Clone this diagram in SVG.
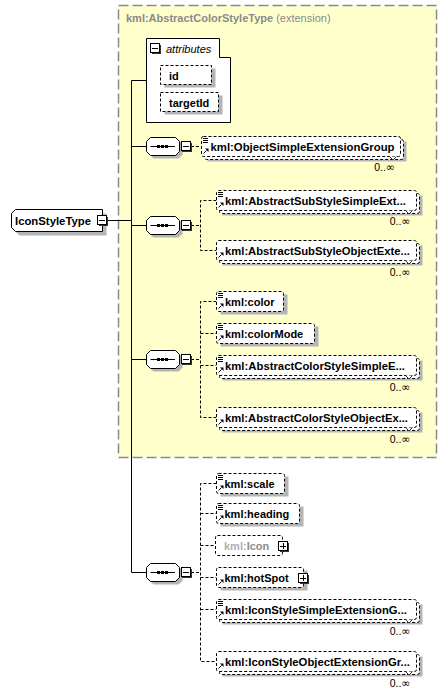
<svg xmlns="http://www.w3.org/2000/svg" xmlns:xlink="http://www.w3.org/1999/xlink" width="448" height="696" viewBox="0 0 448 696">
<style>
.t{font-family:"Liberation Sans",Arial,sans-serif;font-size:11px;font-weight:bold;fill:#000}
.ti{font-family:"Liberation Sans",Arial,sans-serif;font-size:11px;font-style:italic;fill:#000}
.m{font-family:"Liberation Sans",Arial,sans-serif;font-size:10.5px;fill:#000;text-anchor:end}
.inf{font-family:"DejaVu Sans",sans-serif;font-size:11px}
.sh{fill:#b4b4b4}
.eb{fill:#fff;stroke:#000;stroke-width:1;stroke-dasharray:3,2}
.ln{stroke:#000;stroke-width:1;fill:none}
.dl{stroke:#000;stroke-width:1;fill:none;stroke-dasharray:3,2}
.ch{stroke:#333;stroke-width:1;fill:#fff}
</style>
<defs>
<g id="mn" shape-rendering="crispEdges"><path d="M10.5,1.5V10.5H1.5" stroke="#333" fill="none"/><rect x="0.5" y="0.5" width="9" height="9" fill="#fff" stroke="#000"/><path d="M2,5.5H8" stroke="#000"/></g>
<g id="pl" shape-rendering="crispEdges"><path d="M10.5,1.5V10.5H1.5" stroke="#333" fill="none"/><rect x="0.5" y="0.5" width="9" height="9" fill="#fff" stroke="#000"/><path d="M2,5.5H8M5.5,2V8" stroke="#000"/></g>
<g id="sm" shape-rendering="crispEdges"><path d="M0,0.5H5M0,2.5H5M0,4.5H5" stroke="#000"/></g>
<g id="rf"><path d="M0.5,5.5L3.5,2.5" stroke="#000"/><path d="M2,0.5H5.5V4Z" fill="#000"/></g>
<g id="sq">
<path d="M7,-6H32L36,-2V8L32,12H7L3,8V-2Z" class="sh"/>
<path d="M4,-9H29L33,-5V5L29,9H4L0,5V-5Z" fill="#fff" stroke="#000"/>
<path d="M4,0H28.5" stroke="#000"/>
<rect x="10.5" y="-1.5" width="3" height="3" fill="#000"/>
<rect x="14.5" y="-1.5" width="3" height="3" fill="#000"/>
<rect x="18.5" y="-1.5" width="3" height="3" fill="#000"/>
<use href="#mn" x="34" y="-5.5"/>
</g>
</defs>

<g id="ext">
<rect x="118.5" y="5.5" width="318" height="452" fill="#ffffcc" stroke="#8a8a8a" stroke-width="1.5" stroke-dasharray="10,4"/>
<text x="126" y="22" class="t" style="fill:#8a8a8a">kml:AbstractColorStyleType<tspan style="font-weight:normal"> (extension)</tspan></text>
</g>

<g id="connectors">
<path class="ln" d="M107,220.5H131.5M131.5,80.5V572.5H146.5M131.5,80.5H146.5M131.5,146.5H146.5M131.5,225.5H146.5M131.5,359.5H146.5"/>
<path class="dl" d="M191,146.5H201.5"/>
<path class="dl" d="M191,225.5H200.5M216.5,200.5H200.5V250.5H216.5"/>
<path class="dl" d="M191,359.5H200.5M216.5,301.5H200.5V417.5H216.5M200.5,333.5H216.5M200.5,365.5H216.5"/>
<path class="dl" d="M191,572.5H200.5M216.5,483.5H200.5V661.5H216.5M200.5,513.5H216.5M200.5,545.5H215.5M200.5,577.5H216.5M200.5,609.5H216.5"/>
</g>

<g id="IconStyleType">
<path d="M19.5,213.5H106.5V235.5H19.5L15.5,231.5V217.5Z" class="sh"/>
<path d="M15.5,209.5H102.5V231.5H15.5L11.5,227.5V213.5Z" fill="#fff" stroke="#000"/>
<text x="15" y="224.5" class="t" textLength="76" lengthAdjust="spacingAndGlyphs">IconStyleType</text>
<use href="#mn" x="97" y="215"/>
</g>

<g id="attributes">
<path d="M146.5,38.5H219.5V57.5H230.5V122.5H146.5Z" fill="#fff" stroke="#000"/>
<use href="#mn" x="150" y="43"/>
<text x="166" y="52.5" class="ti">attributes</text>
</g>
<g id="attr-id">
<rect x="164.5" y="68.5" width="51" height="19" class="sh"/>
<rect x="160.5" y="65.5" width="51" height="19" class="eb"/>
<text x="169" y="79.5" class="t">id</text>
</g>
<g id="attr-targetId">
<rect x="164.5" y="95.5" width="58" height="19" class="sh"/>
<rect x="160.5" y="92.5" width="58" height="19" class="eb"/>
<text x="169" y="106.5" class="t">targetId</text>
</g>

<g id="seq1"><use href="#sq" x="146.5" y="146.5"/></g>
<g id="seq2"><use href="#sq" x="146.5" y="225.5"/></g>
<g id="seq3"><use href="#sq" x="146.5" y="359.5"/></g>
<g id="seq4"><use href="#sq" x="146.5" y="572.5"/></g>

<g id="e-ObjectSimpleExtensionGroup">
<rect x="207.5" y="141.5" width="199" height="20" class="sh"/>
<rect x="204.5" y="139.5" width="199" height="20" rx="2" class="eb"/>
<rect x="201.5" y="136.5" width="199" height="20" rx="2" class="eb"/>
<path class="ch" d="M389.5,156.5l3.5,3.5l3.5,-3.5"/>
<use href="#sm" x="203" y="138"/><use href="#rf" x="203" y="148"/>
<text x="210.5" y="150.5" class="t" textLength="184" lengthAdjust="spacingAndGlyphs">kml:ObjectSimpleExtensionGroup</text>
<text x="395" y="171" class="m">0..<tspan class="inf">∞</tspan></text>
</g>

<g id="e-AbstractSubStyleSimpleExt">
<rect x="222.5" y="195.5" width="200" height="20" class="sh"/>
<rect x="219.5" y="193.5" width="200" height="20" rx="2" class="eb"/>
<rect x="216.5" y="190.5" width="200" height="20" rx="2" class="eb"/>
<path class="ch" d="M405.5,210.5l3.5,3.5l3.5,-3.5"/>
<use href="#sm" x="218" y="192"/><use href="#rf" x="218" y="202"/>
<text x="225" y="204.5" class="t" textLength="181" lengthAdjust="spacingAndGlyphs">kml:AbstractSubStyleSimpleExt...</text>
<text x="410.5" y="225" class="m">0..<tspan class="inf">∞</tspan></text>
</g>

<g id="e-AbstractSubStyleObjectExt">
<rect x="222.5" y="245.5" width="200" height="20" class="sh"/>
<rect x="219.5" y="243.5" width="200" height="20" rx="2" class="eb"/>
<rect x="216.5" y="240.5" width="200" height="20" rx="2" class="eb"/>
<path class="ch" d="M405.5,260.5l3.5,3.5l3.5,-3.5"/>
<use href="#rf" x="218" y="252"/>
<text x="225" y="254.5" class="t" textLength="185" lengthAdjust="spacingAndGlyphs">kml:AbstractSubStyleObjectExte...</text>
<text x="410.5" y="276" class="m">0..<tspan class="inf">∞</tspan></text>
</g>

<g id="e-color">
<rect x="220.5" y="294.5" width="67" height="20" class="sh"/>
<rect x="216.5" y="291.5" width="67" height="20" rx="2" class="eb"/>
<use href="#sm" x="218" y="293"/><use href="#rf" x="218" y="303"/>
<text x="225" y="305.5" class="t">kml:color</text>
</g>

<g id="e-colorMode">
<rect x="220.5" y="326.5" width="98" height="20" class="sh"/>
<rect x="216.5" y="323.5" width="98" height="20" rx="2" class="eb"/>
<use href="#sm" x="218" y="325"/><use href="#rf" x="218" y="335"/>
<text x="225" y="337.5" class="t">kml:colorMode</text>
</g>

<g id="e-AbstractColorStyleSimpleExt">
<rect x="222.5" y="360.5" width="200" height="20" class="sh"/>
<rect x="219.5" y="358.5" width="200" height="20" rx="2" class="eb"/>
<rect x="216.5" y="355.5" width="200" height="20" rx="2" class="eb"/>
<path class="ch" d="M405.5,375.5l3.5,3.5l3.5,-3.5"/>
<use href="#sm" x="218" y="357"/><use href="#rf" x="218" y="367"/>
<text x="225" y="369.5" class="t" textLength="180" lengthAdjust="spacingAndGlyphs">kml:AbstractColorStyleSimpleE...</text>
<text x="410.5" y="391" class="m">0..<tspan class="inf">∞</tspan></text>
</g>

<g id="e-AbstractColorStyleObjectExt">
<rect x="222.5" y="412.5" width="200" height="20" class="sh"/>
<rect x="219.5" y="410.5" width="200" height="20" rx="2" class="eb"/>
<rect x="216.5" y="407.5" width="200" height="20" rx="2" class="eb"/>
<path class="ch" d="M405.5,427.5l3.5,3.5l3.5,-3.5"/>
<use href="#rf" x="218" y="419"/>
<text x="225" y="421.5" class="t" textLength="183" lengthAdjust="spacingAndGlyphs">kml:AbstractColorStyleObjectEx...</text>
<text x="410.5" y="443" class="m">0..<tspan class="inf">∞</tspan></text>
</g>

<g id="e-scale">
<rect x="220.5" y="476.5" width="68" height="20" class="sh"/>
<rect x="216.5" y="473.5" width="68" height="20" rx="2" class="eb"/>
<use href="#sm" x="218" y="475"/><use href="#rf" x="218" y="485"/>
<text x="224.5" y="487.5" class="t">kml:scale</text>
</g>

<g id="e-heading">
<rect x="220.5" y="506.5" width="83" height="20" class="sh"/>
<rect x="216.5" y="503.5" width="83" height="20" rx="2" class="eb"/>
<use href="#sm" x="218" y="505"/><use href="#rf" x="218" y="515"/>
<text x="224.5" y="517.5" class="t">kml:heading</text>
</g>

<g id="e-Icon">
<rect x="215.5" y="535.5" width="67" height="20" rx="2" class="eb"/>
<text x="224" y="549.5" class="t"><tspan style="fill:#b0b0b0">kml:</tspan><tspan style="fill:#8c8c8c">Icon</tspan></text>
<use href="#pl" x="278" y="541"/>
</g>

<g id="e-hotSpot">
<rect x="220.5" y="570.5" width="87" height="20" class="sh"/>
<rect x="216.5" y="567.5" width="87" height="20" rx="2" class="eb"/>
<use href="#rf" x="218" y="579"/>
<text x="224.5" y="581.5" class="t">kml:hotSpot</text>
<use href="#pl" x="298" y="573"/>
</g>

<g id="e-IconStyleSimpleExt">
<rect x="222.5" y="604.5" width="200" height="20" class="sh"/>
<rect x="219.5" y="602.5" width="200" height="20" rx="2" class="eb"/>
<rect x="216.5" y="599.5" width="200" height="20" rx="2" class="eb"/>
<path class="ch" d="M405.5,619.5l3.5,3.5l3.5,-3.5"/>
<use href="#sm" x="218" y="601"/><use href="#rf" x="218" y="611"/>
<text x="225" y="613.5" class="t" textLength="182" lengthAdjust="spacingAndGlyphs">kml:IconStyleSimpleExtensionG...</text>
<text x="410.5" y="635" class="m">0..<tspan class="inf">∞</tspan></text>
</g>

<g id="e-IconStyleObjectExt">
<rect x="222.5" y="656.5" width="200" height="20" class="sh"/>
<rect x="219.5" y="654.5" width="200" height="20" rx="2" class="eb"/>
<rect x="216.5" y="651.5" width="200" height="20" rx="2" class="eb"/>
<path class="ch" d="M405.5,671.5l3.5,3.5l3.5,-3.5"/>
<use href="#rf" x="218" y="663"/>
<text x="225" y="665.5" class="t" textLength="185" lengthAdjust="spacingAndGlyphs">kml:IconStyleObjectExtensionGr...</text>
<text x="410.5" y="687" class="m">0..<tspan class="inf">∞</tspan></text>
</g>
</svg>
